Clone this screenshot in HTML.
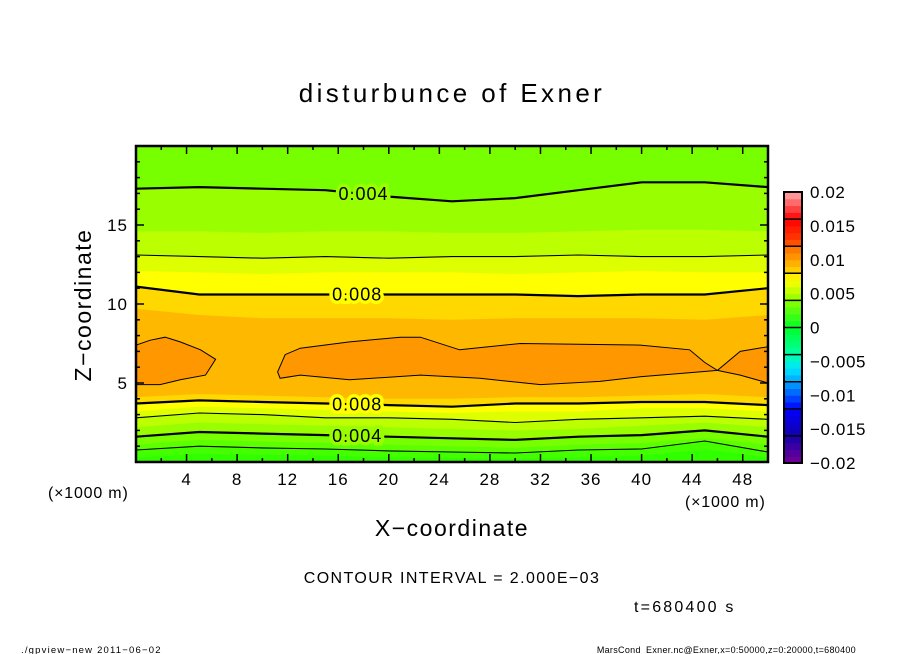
<!DOCTYPE html>
<html><head><meta charset="utf-8"><style>
html,body{margin:0;padding:0;background:#fff;}
svg{display:block;font-family:"Liberation Sans",sans-serif;}
</style></head><body>
<svg id="chart" width="904" height="654" viewBox="0 0 904 654"></svg>
<script>
// ---- data ----
const xSamples = [0,5,10,15,20,25,30,35,40,45,50];
const upper3 = [20.5,20.5,20.5,20.5,20.5,20.5,20.5,20.5,20.5,20.5,20.5];
const upper4 = [17.3,17.4,17.3,17.2,16.8,16.5,16.7,17.2,17.7,17.7,17.4];
const upper5 = [14.6,14.6,14.5,14.6,14.6,14.5,14.5,14.6,14.7,14.7,14.6];
const upper6 = [13.1,13.0,12.9,13.0,12.9,13.0,13.0,13.1,13.0,13.0,13.1];
const upper7 = [12.1,12.0,11.9,12.0,12.0,12.0,11.9,12.0,12.1,12.0,12.0];
const upper8 = [11.1,10.6,10.6,10.6,10.6,10.6,10.6,10.5,10.6,10.6,11.0];
const upper9 = [9.7,9.3,9.1,9.1,9.1,9.0,9.1,9.1,9.1,9.0,9.3];
const lower9 = [4.1,4.3,4.2,4.1,4.0,4.0,4.1,4.1,4.2,4.3,4.1];
const lower8 = [3.7,3.9,3.8,3.7,3.6,3.5,3.7,3.7,3.8,3.8,3.6];
const lower7 = [3.2,3.5,3.4,3.3,3.2,3.1,3.2,3.2,3.4,3.4,3.2];
const lower6 = [2.8,3.1,3.0,2.8,2.8,2.7,2.5,2.7,2.8,2.9,2.7];
const lower5 = [2.2,2.5,2.4,2.3,2.2,2.1,2.0,2.1,2.3,2.5,2.2];
const lower4 = [1.6,1.9,1.8,1.7,1.6,1.5,1.4,1.6,1.7,2.0,1.6];
const lower3 = [1.1,1.4,1.3,1.2,1.1,1.0,0.9,1.1,1.2,1.5,1.1];
const lower2 = [0.76,1.0,0.89,0.82,0.70,0.63,0.57,0.76,0.82,1.33,0.63];
const lower1 = [0.3,0.5,0.45,0.4,0.3,0.25,0.2,0.3,0.4,0.8,0.3];
const island1X = [0,1.1,2.3,3.5,5.1,6.3,5.5,3.5,1.9,0];
const island1Z = [7.4,7.7,7.9,7.6,7.1,6.5,5.5,5.2,4.9,4.9];
const island2X = [11.2,11.8,13.0,16.9,20.9,22.5,25.6,30.4,39.9,43.8,45,46,47.8,50,50,47.8,46,44.6,39.9,36.7,32,27.2,22.5,16.9,13,11.4];
const island2Z = [5.7,6.8,7.2,7.6,7.9,7.9,7.1,7.5,7.4,7.1,6.3,5.8,7.0,7.3,5.0,5.5,5.8,5.7,5.4,5.1,4.9,5.3,5.5,5.2,5.5,5.3];
const levelValues = [0.001,0.002,0.003,0.004,0.005,0.006,0.007,0.008,0.009];
const xTicks = [4,8,12,16,20,24,28,32,36,40,44,48];
const yTicks = [5,10,15];
const cbTicks = ["0.02","0.015","0.01","0.005","0","\u22120.005","\u22120.01","\u22120.015","\u22120.02"];
const cbTickValues = [0.02,0.015,0.01,0.005,0,-0.005,-0.01,-0.015,-0.02];

// ---- geometry ----
const PX0=136,PX1=768,PY0=146,PY1=462;
const sx=x=>PX0+(x/50)*(PX1-PX0);
const sy=z=>PY1-(z/20)*(PY1-PY0);
const NS="http://www.w3.org/2000/svg";
const svg=document.getElementById('chart');
function mk(tag,attrs,parent){const e=document.createElementNS(NS,tag);for(const k in attrs)e.setAttribute(k,attrs[k]);(parent||svg).appendChild(e);return e;}
const binColors=["#30ff00","#44ff00","#5cff00","#77ff00","#99ff00","#bbff00","#ddff00","#ffff00","#ffd800","#ffb800","#ff9800"];

const clip=mk('clipPath',{id:'pc'});
mk('rect',{x:PX0,y:PY0,width:PX1-PX0,height:PY1-PY0},clip);
const g=mk('g',{'clip-path':'url(#pc)'});


const bg=mk('rect',{x:PX0,y:PY0,width:PX1-PX0,height:PY1-PY0,fill:binColors[0]},g);



const uppers=[upper3,upper3,upper3,upper4,upper5,upper6,upper7,upper8,upper9];
const lowers=[lower1,lower2,lower3,lower4,lower5,lower6,lower7,lower8,lower9];
function lineStr(zs){return xSamples.map((x,i)=>sx(x).toFixed(1)+','+sy(zs[i]).toFixed(1)).join(' ');}
for(let L=0;L<levelValues.length;L++){
  const up=uppers[L],lo=lowers[L];
  let pts=xSamples.map((x,i)=>sx(x)+','+sy(up[i]));
  for(let i=xSamples.length-1;i>=0;i--)pts.push(sx(xSamples[i])+','+sy(lo[i]));
  const p=mk('polygon',{points:pts.join(' '),fill:binColors[L+1]},g);
  
  
}
function polyStr(xs,zs){return xs.map((x,i)=>sx(x).toFixed(1)+','+sy(zs[i]).toFixed(1)).join(' ');}
const is1=mk('polygon',{points:polyStr(island1X,island1Z),fill:binColors[10],stroke:'#000','stroke-width':1},g);


const is2=mk('polygon',{points:polyStr(island2X,island2Z),fill:binColors[10],stroke:'#000','stroke-width':1},g);



const contours=[[upper4,2.2,'0.004-upper'],[upper6,1.1,'0.006-upper'],[upper8,2.2,'0.008-upper'],[lower8,2.2,'0.008-lower'],[lower6,1.1,'0.006-lower'],[lower4,2.2,'0.004-lower'],[lower2,1.1,'0.002-lower']];
contours.forEach(c=>{
  const pl=mk('polyline',{points:lineStr(c[0]),fill:'none',stroke:'#000','stroke-width':c[1]},g);
  
  
});
const labs=[[upper4,18,'0.004',binColors[4]],[upper8,17.5,'0.008',binColors[7]],[lower8,17.5,'0.008',binColors[7]],[lower4,17.5,'0.004',binColors[4]]];
labs.forEach((l,k)=>{
  const zi=l[0][3]+(l[0][4]-l[0][3])*((l[1]-15)/5);
  const t=mk('text',{x:sx(l[1]),y:sy(zi)+6,'text-anchor':'middle','font-size':18,'letter-spacing':1,fill:'#000',stroke:l[3],'stroke-width':7,'paint-order':'stroke'},g);
  t.textContent=l[2];
  
  
});

const fr=mk('rect',{x:PX0,y:PY0,width:PX1-PX0,height:PY1-PY0,fill:'none',stroke:'#000','stroke-width':2.5});


for(let x=2;x<50;x+=2){
  const major=xTicks.includes(x),len=major?8:4;
  mk('line',{x1:sx(x),x2:sx(x),y1:PY1,y2:PY1-len,stroke:'#000','stroke-width':1.5});
  mk('line',{x1:sx(x),x2:sx(x),y1:PY0,y2:PY0+len,stroke:'#000','stroke-width':1.5});
}
for(let z=1;z<20;z++){
  const major=yTicks.includes(z),len=major?8:4;
  mk('line',{x1:PX0,x2:PX0+len,y1:sy(z),y2:sy(z),stroke:'#000','stroke-width':1.5});
  mk('line',{x1:PX1,x2:PX1-len,y1:sy(z),y2:sy(z),stroke:'#000','stroke-width':1.5});
}
xTicks.forEach(x=>{const t=mk('text',{x:sx(x),y:485,'text-anchor':'middle','font-size':17,'letter-spacing':1},svg);t.textContent=x;

});
yTicks.forEach(z=>{const t=mk('text',{x:128,y:sy(z)+6,'text-anchor':'end','font-size':17,'letter-spacing':1},svg);t.textContent=z;

});

// colorbar
const CB0=192,CB1=463,CBX=784,CBW=18;
const cbs=v=>CB1-(v+0.02)/0.04*(CB1-CB0);
function cbColor(v){
  const stops=[[-0.02,[120,0,150]],[-0.016,[20,0,170]],[-0.012,[0,0,255]],[-0.009,[0,130,255]],[-0.006,[0,230,255]],[-0.004,[0,255,170]],[0,[0,255,40]],[0.004,[140,255,0]],[0.007,[255,255,0]],[0.009,[255,190,0]],[0.0115,[255,120,0]],[0.013,[255,60,0]],[0.016,[255,0,0]],[0.02,[255,170,170]]];
  for(let i=0;i<stops.length-1;i++){if(v<=stops[i+1][0]){const f=(v-stops[i][0])/(stops[i+1][0]-stops[i][0]);const a=stops[i][1],b=stops[i+1][1];return 'rgb('+a.map((c,j)=>Math.round(c+(b[j]-c)*f)).join(',')+')';}}
  return 'rgb(255,170,170)';
}
const cbg=mk('g',{});


for(let i=0;i<40;i++){const v0=-0.02+i*0.001;mk('rect',{x:CBX,y:cbs(v0+0.001),width:CBW,height:cbs(v0)-cbs(v0+0.001)+0.5,fill:cbColor(v0+0.0005)},cbg);}
for(let i=1;i<10;i++){mk('line',{x1:CBX,x2:CBX+CBW,y1:cbs(-0.02+i*0.004),y2:cbs(-0.02+i*0.004),stroke:'#000','stroke-width':1.5},cbg);}
mk('rect',{x:CBX,y:CB0,width:CBW,height:CB1-CB0,fill:'none',stroke:'#000','stroke-width':2},cbg);
cbTicks.forEach((s,i)=>{const t=mk('text',{x:810,y:cbs(cbTickValues[i])+6,'font-size':17,'letter-spacing':0.6},svg);t.textContent=s;

});

function txt(s,attrs,name){const t=mk('text',attrs);t.textContent=s;return t;}
txt('disturbunce of Exner',{x:452,y:102,'text-anchor':'middle','font-size':26,'letter-spacing':3.4},'chart-title');
txt('Z\u2212coordinate',{x:0,y:0,transform:'translate(91,305) rotate(-90)','text-anchor':'middle','font-size':23,'letter-spacing':1.5},'y-axis-title');
txt('X\u2212coordinate',{x:452,y:536,'text-anchor':'middle','font-size':23,'letter-spacing':1.5},'x-axis-title');
txt('(\u00d71000 m)',{x:48,y:498,'font-size':16,'letter-spacing':0.8},'y-unit-label');
txt('(\u00d71000 m)',{x:685,y:507,'font-size':16,'letter-spacing':0.8},'x-unit-label');
txt('CONTOUR INTERVAL = 2.000E\u221203',{x:452,y:583,'text-anchor':'middle','font-size':16,'letter-spacing':1.4},'contour-interval');
txt('t=680400 s',{x:634,y:612,'font-size':16,'letter-spacing':2.2},'time-label');
txt('./gpview\u2212new   2011\u221206\u221202',{x:21,y:653,'font-size':9.5,'letter-spacing':1.2},'footer-left');
txt('MarsCond_Exner.nc@Exner,x=0:50000,z=0:20000,t=680400',{x:856,y:653,'text-anchor':'end','font-size':9,'letter-spacing':0.3},'footer-right');
</script>
</body></html>
